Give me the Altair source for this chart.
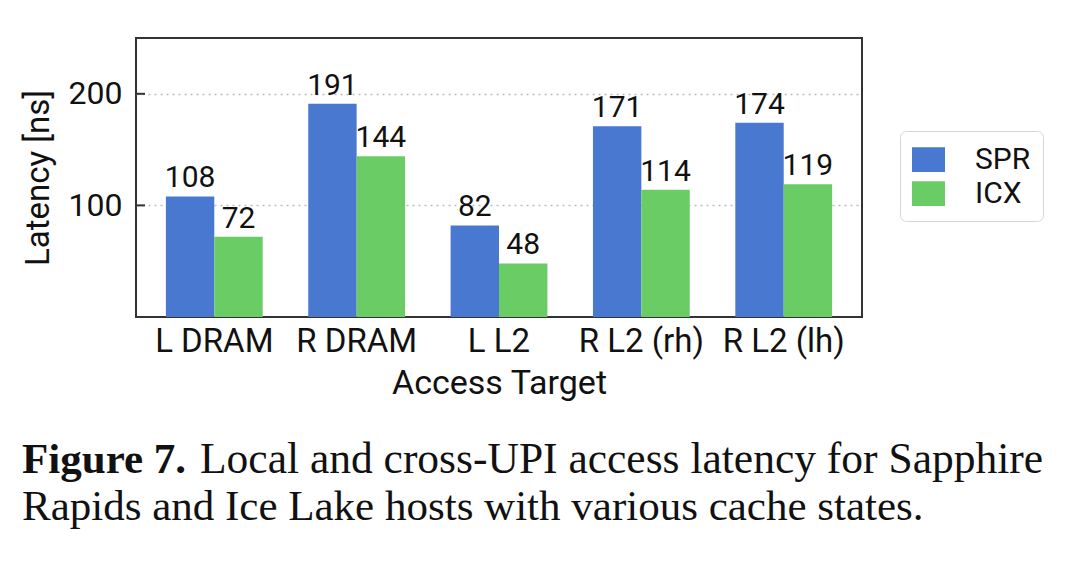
import altair as alt
import pandas as pd

categories = ["L DRAM", "R DRAM", "L L2", "R L2 (rh)", "R L2 (lh)"]
spr = [108, 191, 82, 171, 174]
icx = [72, 144, 48, 114, 119]
systems = ["SPR", "ICX"]
colors = ["#4878CF", "#6ACC65"]
y_ticks = [100, 200]

rows = []
for c, a, b in zip(categories, spr, icx):
    rows.append({"target": c, "system": "SPR", "latency": a})
    rows.append({"target": c, "system": "ICX", "latency": b})
df = pd.DataFrame(rows)

FONT = "Roboto"
SERIF = "Liberation Serif"

x_enc = alt.X("target:N", sort=categories, title="Access Target",
              scale=alt.Scale(paddingInner=0.32, paddingOuter=0.21),
              axis=alt.Axis(labelAngle=0, tickSize=0, domain=False,
                            labelFontSize=33, labelPadding=8, titlePadding=8,
                            titleFontSize=34, titleFontWeight="normal",
                            labelFont=FONT, titleFont=FONT, labelColor="#111", titleColor="#111"))
y_enc = alt.Y("latency:Q", title="Latency [ns]",
              scale=alt.Scale(domain=[0, 250], nice=False),
              axis=alt.Axis(values=y_ticks, tickSize=0, domain=False,
                            labelFontSize=32, labelPadding=14, titlePadding=13,
                            titleFontSize=33, titleFontWeight="normal",
                            labelFont=FONT, titleFont=FONT, labelColor="#111", titleColor="#111",
                            grid=True, gridDash=[2, 4], gridColor="#bbbbbb", gridWidth=1.5))
xo = alt.XOffset("system:N", sort=systems)

bars = alt.Chart(df).mark_bar().encode(
    x=x_enc, y=y_enc, xOffset=xo,
    color=alt.Color("system:N", sort=systems,
                    scale=alt.Scale(domain=systems, range=colors),
                    legend=alt.Legend(title=None, orient="none", legendX=764, legendY=93,
                                      padding=12, strokeColor="#d6d6d6", cornerRadius=6,
                                      fillColor="white",
                                      symbolType="M-1,-0.75L1,-0.75L1,0.75L-1,0.75Z",
                                      symbolSize=1089, symbolStrokeWidth=0,
                                      labelFontSize=30, labelFont=FONT, labelColor="#111",
                                      labelOffset=30, rowPadding=2)),
)

labels = alt.Chart(df).mark_text(baseline="alphabetic", dy=-9, fontSize=30, font=FONT, color="#111").encode(
    x=alt.X("target:N", sort=categories), y="latency:Q", xOffset=xo,
    text="latency:Q",
)

ticks = alt.Chart(pd.DataFrame({"v": y_ticks})).mark_rule(color="#333", strokeWidth=2).encode(
    y="v:Q", x=alt.value(0), x2=alt.value(9)
)

cap = pd.DataFrame({"t": [0]})
cap1b = alt.Chart(cap).mark_text(text="Figure 7.", font=SERIF, fontSize=43, fontWeight="bold",
                                 align="left", baseline="alphabetic", color="#111").encode(
    x=alt.value(-114), y=alt.value(435))
cap1 = alt.Chart(cap).mark_text(text="Local and cross-UPI access latency for Sapphire", font=SERIF,
                                fontSize=43.5, align="left", baseline="alphabetic", color="#111").encode(
    x=alt.value(64), y=alt.value(435))
cap2 = alt.Chart(cap).mark_text(text="Rapids and Ice Lake hosts with various cache states.", font=SERIF,
                                fontSize=43, align="left", baseline="alphabetic", color="#111").encode(
    x=alt.value(-114), y=alt.value(482))

chart = alt.layer(bars, labels, ticks, cap1b, cap1, cap2).properties(
    width=726, height=279,
    autosize=alt.AutoSizeParams(type="none"),
    padding={"left": 128, "top": 30, "right": 210, "bottom": 239},
).configure(background="white", view=alt.ViewConfig(stroke="#333", strokeWidth=2))

chart.save("out.html", embed_options={"renderer": "svg", "actions": False})
